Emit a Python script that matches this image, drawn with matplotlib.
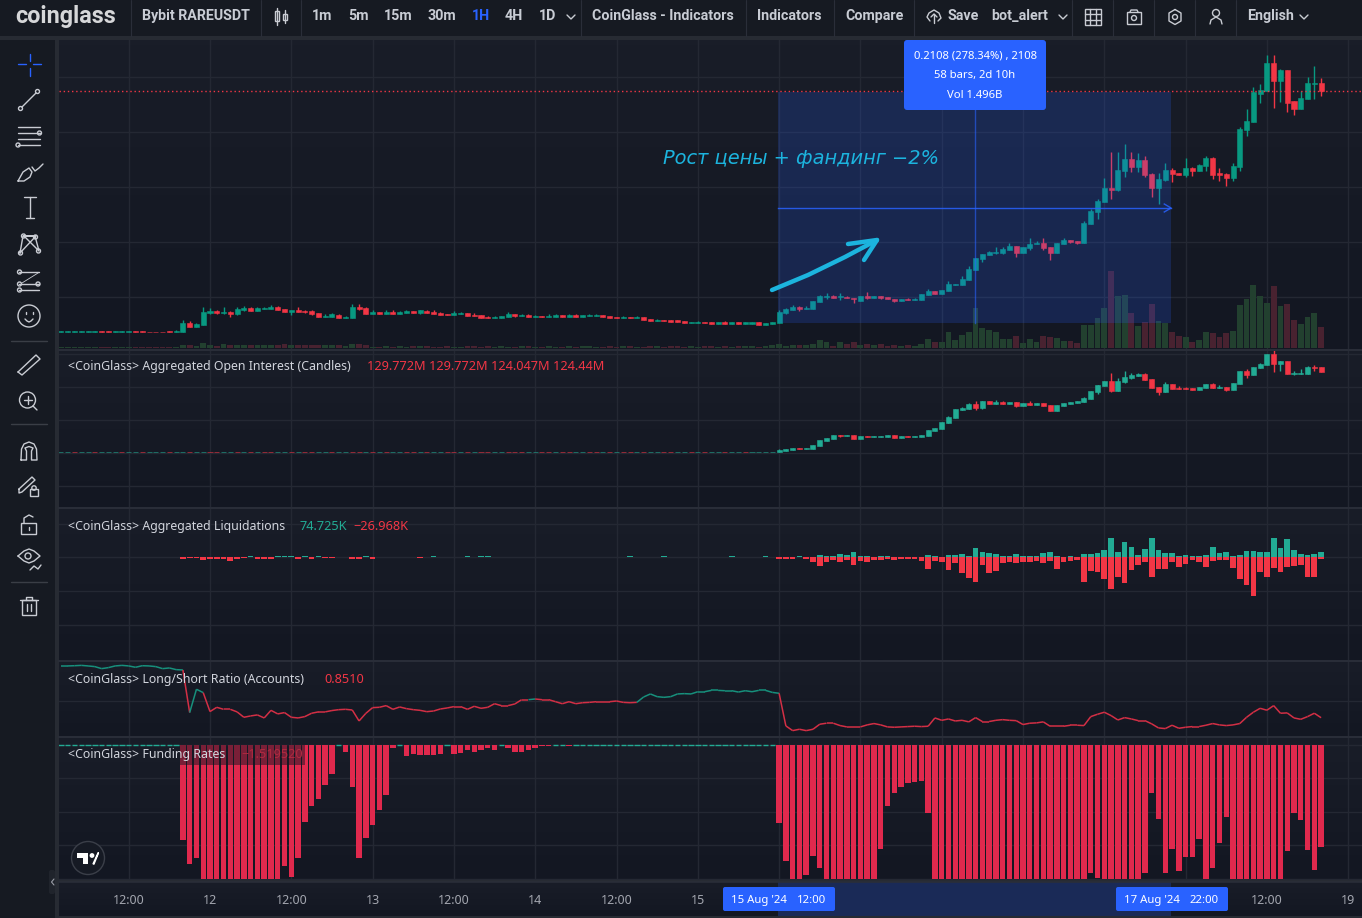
import matplotlib
matplotlib.use("Agg")
import matplotlib.pyplot as plt
import numpy as np
from matplotlib.patches import Circle, FancyBboxPatch, Polygon, Rectangle
from matplotlib.collections import LineCollection
from matplotlib.colors import LinearSegmentedColormap

plt.rcParams['font.family'] = ['Noto Sans', 'DejaVu Sans']

# hours since 12 Aug 00:00, one bar per hour
first_hour = -22
last_hour = 164

tick_hours = [-12, 0, 12, 24, 36, 48, 60, 72, 84, 96, 108, 120, 132, 144, 156, 168]
# hours 84 and 144 sit under the blue date boxes, so their labels stay empty
tick_labels = ['12:00', '12', '12:00', '13', '12:00', '14', '12:00', '15', '', '16',
               '12:00', '17', '12:00', '', '12:00', '19']

# the price scale is not in the screenshot, so these are chart readings in relative units
price_open = [18.0, 18.0, 18.0, 18.0, 18.0, 18.0, 18.6, 18.6, 18.0, 18.0, 18.4, 18.6, 18.6, 18.2, 18.2, 18.2, 19.0, 18.3,
              18.3, 27, 23, 25, 37.3, 39.3, 37.3, 38, 36.3, 40, 42, 39.3, 41, 41.3, 43, 41, 38.3, 40.3, 39.3, 39.3,
              37, 33.3, 33, 35, 32.3, 32, 43, 42, 36, 38, 36, 38, 36, 37.3, 39, 37.3, 39, 38, 37, 36,
              35, 36, 37, 35, 35, 33, 32, 32, 33, 36, 34, 35, 33, 34, 33, 33, 35, 33, 35, 33,
              34, 34, 35, 34, 33, 32, 33, 32, 33, 31, 29, 30, 30, 30, 29, 27, 27, 28, 28, 26,
              28, 26, 28, 26, 26, 28, 25, 26, 27,
              36.7, 40, 43, 41.3, 41.3, 48.3, 53.3, 54, 52.7, 53.3, 52.3, 49.3, 54, 52.3, 54.3, 52.7, 51.3, 49.3, 50.7, 49.7,
              50.3, 54.7, 58.7, 56.3, 59.3, 65.3, 65, 70, 80, 91, 94.7, 97.3, 97.3, 100, 104, 97.3, 101.7, 105.7, 107.3, 103.3,
              97, 106.3, 109.7, 109, 107.3, 126.3, 138.3, 148.3, 162, 160, 179, 191, 183, 190, 176, 162.3, 170, 180, 177, 175,
              182, 179, 184, 192, 177, 176, 172, 183, 220, 228.3, 256, 259.3, 287, 269, 280, 249, 241, 251, 266.3, 267]
price_close = [18.6, 18.6, 18.6, 18.6, 18.6, 18.6, 18.0, 18.0, 18.6, 18.6, 19.0, 18.0, 18.0, 17.8, 17.8, 17.8, 18.3, 19.3,
               27, 23, 25.7, 37.7, 39, 37.3, 38, 36.3, 41, 42, 39.3, 42, 41.7, 43, 40, 38, 40, 38.3, 38.3, 36,
               33, 34, 36, 32, 33, 43, 41, 36, 38, 36, 38, 36, 38, 39, 37, 40, 37, 36, 35, 35,
               37, 37, 34, 34, 32, 32, 33, 34, 36, 34, 35, 33, 34, 33, 34, 35, 33, 35, 33, 35,
               35, 35, 33, 32, 32, 33, 32, 33, 30, 29, 30, 29.3, 28, 28, 27, 28, 28, 27, 26, 28,
               26, 28, 26, 28, 28, 25, 27, 28, 38,
               40.7, 43, 41.3, 42.3, 48.7, 54, 54.3, 52.3, 54, 52, 50.7, 54, 52.3, 54.3, 52.3, 50.7, 49.3, 51, 49.7, 51.3,
               55.7, 59.3, 56.3, 60, 66, 66.3, 71, 81.3, 92, 96, 98.3, 98, 101.3, 104, 97, 103.3, 106, 107.3, 101.7, 97.3,
               106.7, 110, 108.3, 107.3, 127, 139, 149, 162, 160, 180, 191, 183, 189.7, 175, 162.3, 171, 180, 176, 175.3, 181.7,
               179.3, 184.7, 192, 175, 175, 172.3, 184, 221, 229, 258, 260, 287, 269, 280, 247, 241, 251.7, 267, 267, 259]
price_high = [18.6, 18.6, 18.6, 18.6, 18.6, 18.6, 18.6, 18.6, 18.6, 18.6, 19.0, 18.6, 18.6, 18.2, 18.2, 18.2, 19.0, 20.3,
              30, 29, 27, 42.7, 41.7, 40.3, 42.7, 39.3, 42.7, 44, 42.7, 43, 43, 45, 44, 41, 40, 43, 40.3, 40.3,
              37, 36, 37, 36, 34, 46, 46, 43, 40, 38, 40, 40, 39, 40, 39, 40, 40, 40, 38, 36,
              39, 38, 37, 37, 35, 34, 34, 34, 38, 36, 36, 36, 35, 34, 36, 36, 35, 36, 36, 35,
              36, 36, 35, 34, 33, 34, 33, 34, 33, 31, 31, 30, 30, 30, 29, 28, 29, 28, 28, 28,
              29, 28, 28, 28, 28, 28, 27, 28, 40,
              42.3, 45, 44, 44, 48.7, 55, 56.7, 55, 56.7, 54, 52.3, 54, 58.3, 54.3, 54.3, 52.7, 51.3, 51, 52.3, 52.3,
              55.7, 60.7, 58.7, 60, 69.3, 66.3, 74, 84.3, 92, 96, 99.3, 102.7, 102.7, 106.7, 104, 103.3, 111.7, 109, 111.7, 103.3,
              106.7, 111.7, 109.7, 109, 129, 140.7, 150.7, 172, 198, 197.7, 206, 198, 197.3, 194, 177.3, 176.7, 186.7, 181.7, 177, 191.7,
              183.3, 186, 194.3, 193.3, 181.7, 176.7, 187.3, 222.7, 240.7, 262.7, 266, 295, 295, 281.3, 280, 249, 259.3, 272.7, 284, 272]
price_low = [18.0, 18.0, 18.0, 18.0, 18.0, 18.0, 18.0, 18.0, 18.0, 18.0, 18.4, 18.0, 18.0, 17.8, 17.8, 17.8, 18.3, 18.3,
             18.3, 23, 23, 25, 36, 36, 36, 33, 35, 39.3, 39.3, 39.3, 41, 41.3, 40, 38, 35, 38.3, 37.3, 35,
             33, 33.3, 33, 32, 32.3, 32, 40, 36, 36, 36, 36, 36, 36, 37.3, 37, 36, 37, 36, 35, 35,
             35, 36, 34, 34, 32, 32, 32, 32, 33, 33, 34, 33, 33, 33, 33, 33, 33, 33, 33, 33,
             34, 34, 33, 32, 32, 32, 32, 32, 30, 29, 29, 29.3, 28, 28, 27, 27, 27, 27, 26, 26,
             26, 26, 26, 26, 26, 25, 25, 26, 27,
             36, 40, 39.3, 41.3, 41.3, 48.3, 51.3, 52.3, 50, 52, 46.7, 49.3, 51.3, 52.3, 50.7, 50.7, 47.7, 49.3, 49.7, 49.7,
             50.3, 54.7, 56.3, 56.3, 59.3, 65.3, 65, 70, 80, 87.7, 94.7, 95.7, 96, 100, 93.3, 97.3, 100, 105.7, 100, 90,
             97, 106.3, 107.3, 106, 107.3, 126.3, 131, 148.3, 151.3, 159.3, 173.3, 178, 178.3, 172.7, 153, 146.3, 169, 168.3, 175.3, 172.7,
             174, 179, 179.3, 171, 169.3, 164.3, 168.7, 179.3, 214.3, 228.3, 246.7, 259.3, 242.3, 248.3, 238.3, 235, 241, 251, 251, 254]

# volume, same relative units
volume = [1, 1, 1, 1, 1, 1, 1, 1, 1, 1, 1, 1, 1, 1, 1, 1, 1, 1,
          3, 3, 2, 5, 3, 2, 4, 3, 3, 3, 3, 3, 3, 3, 3, 4, 3, 3, 3, 3, 3, 3, 3, 3, 2, 4, 4, 3,
          1.5, 1.5, 2, 1.5, 2, 1.5, 2, 2, 2, 1.5, 1.5, 2, 1.5, 1.5, 2, 2, 1.5, 2, 1.5, 2,
          1.5, 1.5, 2, 2, 1.5, 1.5, 2, 1.5, 1.5, 2, 1.5, 2, 2, 1.5, 1.5, 2, 1.5, 2, 2, 1.5,
          1.5, 2, 2, 1.5, 2, 2, 1.5, 2, 1.5, 2, 2, 1.5, 2, 1.5, 2, 2, 2, 1.5, 2, 3, 4,
          2, 3, 3, 3, 4, 8, 6, 2, 6, 4, 6, 3, 4, 3, 4, 2, 3, 2, 3, 2,
          4, 9, 6, 6, 16, 8, 13, 16, 40, 20, 18, 16, 9, 9, 12, 5, 9, 6, 12, 11,
          10, 7, 7, 5, 23, 23, 30, 40, 77, 52, 53, 35, 22, 26, 44, 27, 25, 16, 12, 11,
          6, 8, 16, 15, 11, 15, 17, 43, 49, 63, 52, 45, 62, 42, 44, 28, 24, 31, 35, 21]

# open interest in millions, last bar is the 129.772M / 124.44M of the legend
oi_open = [38.9, 38.9, 39.3, 38.9, 38.9, 39.3, 38.9, 38.9, 38.9, 39.3,
           38.9, 38.9, 39.3, 38.9, 38.9, 38.9, 39.3, 38.9, 38.9, 39.3,
           38.9, 38.9, 39.3, 39.3, 38.9, 38.9, 39.3, 38.9, 39.3, 38.9,
           39.3, 39.3, 38.9, 38.9, 39.3, 38.9, 39.3, 39.3, 38.9, 38.9,
           39.3, 38.9, 38.9, 39.3, 39.3, 38.9, 39.3, 38.9, 39.3, 38.9,
           38.9, 39.3, 39.3, 38.9, 39.3, 38.9, 38.9, 39.3, 39.3, 38.9,
           39.3, 38.9, 39.3, 39.3, 38.9, 38.9, 39.3, 39.3, 39.3, 38.9,
           38.9, 39.3, 39.3, 38.9, 39.3, 39.3, 38.9, 38.9, 39.3, 39.3,
           38.9, 39.3, 38.9, 39.3, 39.3, 38.9, 39.3, 38.9, 38.9, 39.3,
           39.3, 38.9, 38.9, 39.3, 38.9, 39.3, 38.9, 38.9, 39.3, 38.9,
           38.9, 39.3, 38.9, 38.9, 38.9, 38.9,
           39.2, 40.2, 41.3, 43.4, 42.4, 42.4, 45.6, 50.9, 53, 57.3,
           56.2, 57.3, 53, 56.2, 55.1, 55.1, 55.1, 57.3, 54.1, 56.2,
           55.1, 55.1, 56.2, 61.5, 63.7, 70.1, 75.4, 83.9, 85, 90.3,
           86.1, 93.5, 90.3, 92.5, 90.3, 92.5, 88.2, 91.4, 89.3, 91.4,
           89.3, 82.9, 88.2, 90.3, 91.4, 92.5, 95.7, 103.1, 109.5, 114.9,
           104.2, 113.8, 118, 120.2, 122.3, 117, 108.5, 103.1, 111.6, 107.4,
           107.4, 107.4, 105.2, 107.4, 111.6, 107.4, 108.5, 105.2, 111.6, 125.5,
           121.2, 128.7, 131.9, 143.6, 133, 136.2, 122.3, 122.3, 122.3, 129.772, 129.772]
oi_close = [39.3, 39.3, 38.9, 39.3, 39.3, 38.9, 39.3, 39.3, 39.3, 38.9,
            39.3, 39.3, 38.9, 39.3, 39.3, 39.3, 38.9, 39.3, 39.3, 38.9,
            39.3, 39.3, 38.9, 38.9, 39.3, 39.3, 38.9, 39.3, 38.9, 39.3,
            38.9, 38.9, 39.3, 39.3, 38.9, 39.3, 38.9, 38.9, 39.3, 39.3,
            38.9, 39.3, 39.3, 38.9, 38.9, 39.3, 38.9, 39.3, 38.9, 39.3,
            39.3, 38.9, 38.9, 39.3, 38.9, 39.3, 39.3, 38.9, 38.9, 39.3,
            38.9, 39.3, 38.9, 38.9, 39.3, 39.3, 38.9, 38.9, 38.9, 39.3,
            39.3, 38.9, 38.9, 39.3, 38.9, 38.9, 39.3, 39.3, 38.9, 38.9,
            39.3, 38.9, 39.3, 38.9, 38.9, 39.3, 38.9, 39.3, 39.3, 38.9,
            38.9, 39.3, 39.3, 38.9, 39.3, 38.9, 39.3, 39.3, 38.9, 39.3,
            39.3, 38.9, 39.3, 39.3, 39.3, 39.3,
            41.7, 42.4, 43.4, 42.4, 43.4, 46.6, 52, 54.1, 57.3, 56.2,
            57.3, 53, 56.2, 55.1, 56.2, 56.2, 57.3, 54.1, 56.2, 55.1,
            56.2, 57.3, 62.6, 64.7, 71.1, 76.5, 85, 86.1, 90.3, 86.1,
            93.5, 90.3, 92.5, 90.3, 92.5, 88.2, 91.4, 89.3, 91.4, 88.2,
            82.9, 89.3, 91.4, 92.5, 93.5, 96.7, 104.2, 110.6, 114.9, 104.2,
            114.9, 119.1, 121.2, 122.3, 115.9, 107.4, 103.1, 111.6, 106.3, 106.3,
            106.3, 105.2, 108.5, 111.6, 107.4, 108.5, 105.2, 112.7, 125.5, 121.2,
            129.8, 133, 143.6, 133, 136.2, 122.3, 123.4, 123.4, 129.8, 128.7, 124.44]
# hours where the open interest candle has a visible wick
oi_wick_hours = [84, 93, 109, 111, 112, 113, 114, 116, 117, 119, 121, 129, 131, 133, 134, 135, 136, 137, 138, 140, 141,
                 143, 144, 148, 149, 150, 153, 155, 157, 158, 160, 161, 162, 163]
oi_wick_high = [42.4, 57.3, 77.5, 87.1, 91.4, 93.5, 93.5, 94.6, 93.5, 92.5, 93.5, 97.8, 110.6, 123.4, 118, 125.5, 123.4, 123.4,
                123.4, 108.5, 113.8, 109.5, 108.5, 112.7, 110.6, 108.5, 127.6, 134, 147.9, 136.2, 125.5, 127.6, 130.8, 131.9]
oi_wick_low = [39.2, 55.1, 70.1, 83.9, 85, 83.9, 85, 90.3, 90.3, 87.1, 89.3, 92.5, 101, 103.1, 104.2, 112.7, 117, 120.2,
               115.9, 99.9, 103.1, 106.3, 106.3, 107.4, 107.4, 104.2, 118, 128.7, 124.4, 125.5, 121.2, 122.3, 122.3, 125.5]

# liquidations in thousands, from hour -4 to the end
liq_up = [0, 0, 0, 0, 0, 0, 0, 0, 0, 0, 18, 0, 0, 0, 18, 18, 18, 0, 18, 0, 18, 0, 0, 0, 0, 0, 0, 18, 0,
          0, 0, 0, 0, 0, 0, 0, 0, 18, 0, 0, 0, 0, 18, 0, 18, 18] + [0] * 20 + [18, 0, 0, 0, 0, 18] + [0] * 9 + [
          18, 0, 0, 0, 0, 18, 0,
          0, 0, 0, 18, 0, 0, 33, 19, 19, 47,
          33, 75, 19, 19, 0, 19, 19, 0, 0, 0,
          0, 0, 33, 19, 0, 33, 33, 47, 19, 131,
          75, 61, 47, 19, 19, 47, 19, 19, 19, 61,
          75, 19, 0, 19, 0, 47, 47, 61, 103, 271,
          75, 215, 145, 33, 117, 271, 103, 61, 61, 19,
          33, 19, 19, 33, 145, 61, 75, 19, 33, 89,
          89, 75, 75, 271, 131, 257, 103, 47, 33, 47, 75]
liq_down = [28, 18, 18, 37, 28, 28, 28, 47, 28, 18, 0, 28, 28, 28, 0, 0, 0, 28, 0, 28, 0, 18, 18, 0, 0, 28, 28, 0, 28,
            0, 0, 0, 0, 0, 0, 18] + [0] * 52 + [
            28, 28, 28, 0, 28, 70, 126, 70, 42, 70,
            42, 112, 56, 70, 42, 42, 28, 42, 28, 28,
            28, 56, 168, 56, 70, 182, 84, 224, 294, 350,
            112, 224, 196, 84, 70, 84, 70, 70, 56, 84,
            56, 168, 70, 56, 42, 350, 196, 210, 308, 448,
            280, 364, 182, 112, 70, 280, 168, 168, 70, 140,
            98, 42, 70, 140, 56, 42, 42, 154, 308, 392,
            546, 210, 280, 154, 210, 140, 126, 112, 280, 280, 27]

long_short = [1.313, 1.313, 1.315, 1.318, 1.313, 1.307, 1.289, 1.298, 1.313, 1.318,
              1.313, 1.301, 1.315, 1.313, 1.307, 1.289, 1.295, 1.280, 1.277,
              0.897, 1.105, 1.075, 0.906, 0.944, 0.926, 0.926, 0.903, 0.855, 0.867, 0.876, 0.849, 0.917,
              0.885, 0.897, 0.855, 0.849, 0.861, 0.891, 0.903, 0.903, 0.915, 0.923, 0.926, 0.920,
              0.822, 0.890, 0.941, 0.944, 0.959, 0.926, 0.947, 0.932, 0.923, 0.917, 0.905, 0.911, 0.929, 0.938, 0.950, 0.950,
              0.926, 0.953, 0.935, 0.944, 0.976, 0.959, 0.959, 0.974, 1.012, 1.012, 1.018, 1.012, 1.012, 0.994, 0.976, 0.994,
              0.976, 0.985, 0.988, 0.994, 0.994, 0.994, 1.000, 0.988, 0.985, 0.988, 1.036, 1.063, 1.039, 1.033, 1.039, 1.063,
              1.066, 1.063, 1.083, 1.083, 1.095, 1.095, 1.092, 1.092, 1.080, 1.092, 1.083, 1.095, 1.095, 1.077, 1.069,
              0.778, 0.736, 0.748, 0.736, 0.748, 0.793, 0.802, 0.802, 0.781, 0.769, 0.769, 0.769, 0.787, 0.799, 0.787, 0.769,
              0.766, 0.769, 0.772, 0.775, 0.772, 0.775, 0.849, 0.828, 0.840, 0.822, 0.828, 0.814, 0.852, 0.817, 0.817, 0.828,
              0.834, 0.828, 0.825, 0.790, 0.802, 0.805, 0.814, 0.775, 0.775, 0.775, 0.784, 0.784, 0.781, 0.861, 0.882, 0.900,
              0.870, 0.831, 0.852, 0.840, 0.825, 0.825, 0.796, 0.760, 0.754, 0.784, 0.757, 0.766, 0.772, 0.772, 0.784, 0.799,
              0.787, 0.781, 0.787, 0.799, 0.855, 0.900, 0.935, 0.918, 0.959, 0.891, 0.894, 0.849, 0.837, 0.861, 0.891, 0.851]

funding = [0, 0, 0, 0, 0, 0, 0, 0, 0, 0, 0, 0, 0, 0, 0, 0, 0, 0,
           -1.42, -1.78, -1.69, -2, -2, -2, -2, -2, -2, -2, -2, -2, -2, -2, -2,
           -1.81, -1.97, -1.69, -1.15, -0.91, -0.81, -0.60, -0.43, 0, -0.10, -0.63, -1.69, -1.39, -1.19, -0.97, -0.75,
           -0.04, 0, -0.16, -0.13, -0.15, -0.15, -0.15, -0.13, 0, -0.13, -0.12, -0.07, -0.10, -0.07, -0.05, -0.08,
           0, -0.05, -0.11, -0.10, -0.08, -0.04, -0.02, -0.01, 0, 0, -0.02,
           0, 0, 0, 0, 0, 0, 0, 0, 0, 0, 0, 0, 0, 0, 0, 0, 0, 0, 0, 0, 0, 0, 0, 0, 0, 0, 0, 0, 0, 0,
           -1.16, -1.73, -2, -2, -1.94, -1.66, -1.84, -2, -2, -2, -2, -2, -2, -2, -2, -1.55, -0.91, -0.72, -0.63, -0.57,
           -0.55, -0.54, -1.01, -2, -2, -2, -2, -2, -2, -2, -2, -2, -2, -2, -2, -2, -2, -2, -2, -2,
           -2, -2, -2, -2, -2, -2, -1.91, -1.98, -2, -2, -2, -2, -2, -2, -1.91, -0.72, -1.10, -1.91, -1.55, -1.88,
           -1.67, -1.67, -1.40, -2, -1.84, -1.46, -1.07, -2, -2, -2, -2, -2, -2, -2, -2, -1.58, -1.01, -1.12, -1.57, -1.87, -1.52]

hours = np.arange(first_hour, last_hour + 1)
liq_hours = np.arange(-4, last_hour + 1)

GREEN = '#089981'
RED = '#f23645'
TEAL = '#22ab94'
FUND = '#e0294d'
GRID = '#242833'
TEXT = '#d1d4dc'
ICON = '#c9ccd3'
BAR = '#161a22'
CYAN = '#1cb4de'
BLUE = '#2962ff'
TOOL = '#c8ccd4'
BOLD = 'Roboto'

W, H = 1362, 918
PX_PER_HOUR = 6.775
X0 = 210  # pixel of hour 0

fig = plt.figure(figsize=(W / 100, H / 100), dpi=100, facecolor='#272b33')

back = fig.add_axes([0, 0, 1, 1], zorder=0)
back.set_xlim(0, W)
back.set_ylim(H, 0)
back.axis('off')
back.add_patch(Rectangle((0, 0), W, 36, color=BAR, lw=0))
back.add_patch(Rectangle((0, 40), 55, H - 40, color=BAR, lw=0))

grad = LinearSegmentedColormap.from_list('pane', ['#191d28', '#131722'])


def pane(top, bottom, ylim, yticks):
    ax = fig.add_axes([59 / W, 1 - bottom / H, (W - 59) / W, (bottom - top) / H], zorder=1)
    ax.imshow(np.linspace(0, 1, 64).reshape(-1, 1), cmap=grad, aspect='auto', extent=(0, 1, 0, 1),
              transform=ax.transAxes, zorder=0)
    ax.set_xlim((59 - X0) / PX_PER_HOUR, (W - X0) / PX_PER_HOUR)
    ax.set_ylim(*ylim)
    ax.set_xticks(tick_hours)
    ax.set_yticks(yticks)
    ax.tick_params(length=0, labelbottom=False, labelleft=False)
    ax.grid(True, color=GRID, lw=1, zorder=0.5)
    ax.set_axisbelow(True)
    for s in ax.spines.values():
        s.set_visible(False)
    return ax


def candles(ax, x, o, c, h, l, up, down, width=0.74):
    o, c, h, l, x = map(np.asarray, (o, c, h, l, x))
    colors = [up if cc >= oo else down for oo, cc in zip(o, c)]
    ax.vlines(x, l, h, colors=colors, lw=1, zorder=3)
    ax.bar(x, np.abs(c - o), bottom=np.minimum(o, c), width=width, color=colors,
           edgecolor=colors, lw=0.4, zorder=3)


# price pane, volume stands on the pane floor 2 units up
ax_price = pane(40, 350, (0, 310), [273, 218, 163, 108, 53])
vol_colors = ['#22402f' if c >= o else '#482230' for o, c in zip(price_open, price_close)]
ax_price.bar(hours, volume, bottom=2, width=0.86, color=vol_colors, lw=0, zorder=2)
candles(ax_price, hours, price_open, price_close, price_high, price_low, GREEN, RED)
ax_price.axhline(price_close[-1], color=RED, lw=1, ls=(0, (1, 2)), zorder=4)

# the measuring tool, 58 bars wide, anchored just left of the hour 84 candle
tool_start = 83.85
ax_price.add_patch(Rectangle((tool_start, 27), 58, 231, color=BLUE, alpha=0.2, lw=0, zorder=5))
ax_price.plot([tool_start, tool_start + 58], [142, 142], color=BLUE, lw=1, alpha=0.85, zorder=6)
ax_price.plot([tool_start + 29, tool_start + 29], [27, 240], color=BLUE, lw=1, alpha=0.6, zorder=6)
ax_price.plot([tool_start + 57, tool_start + 58, tool_start + 57], [146, 142, 138], color=BLUE, lw=1, alpha=0.85, zorder=6)

# open interest
ax_oi = pane(350, 508, (-20.5, 147.9), [143.6, 108.5, 73.3, 38.1, 2.9])
oi_o, oi_c = np.array(oi_open), np.array(oi_close)
candles(ax_oi, hours, oi_o, oi_c, np.maximum(oi_o, oi_c), np.minimum(oi_o, oi_c), TEAL, RED)
wick_colors = [TEAL if oi_c[h - first_hour] >= oi_o[h - first_hour] else RED for h in oi_wick_hours]
ax_oi.vlines(oi_wick_hours, oi_wick_low, oi_wick_high, colors=wick_colors, lw=1, zorder=3)

# liquidations
ax_liq = pane(508, 660, (-1440, 689), [462, 0, -476, -952])
ax_liq.bar(liq_hours, liq_up, width=0.84, color=TEAL, lw=0, zorder=3)
ax_liq.bar(liq_hours, -np.array(liq_down), width=0.84, color=RED, lw=0, zorder=3)

# long/short ratio, one colour per segment
ax_ls = pane(660, 737, (0.679, 1.366), [1.0])
pts = np.column_stack([hours, long_short])
segs = np.stack([pts[:-1], pts[1:]], axis=1)
seg_colors = ['#17907c' if v >= 1.015 else '#d32f45' for v in long_short[1:]]
ax_ls.add_collection(LineCollection(segs, colors=seg_colors, lw=1.1, zorder=3))

# funding
ax_fund = pane(737, 880, (-2.016, 0.119), [0, -0.5, -1, -1.5, -2])
ax_fund.bar(hours, funding, width=0.8, color=FUND, lw=0, zorder=3)
flat = np.array(funding) == 0
ax_fund.hlines(np.zeros(flat.sum()), hours[flat] - 0.4, hours[flat] + 0.4, color=TEAL, lw=1, zorder=3)

# time axis
ax_time = pane(882, 916, (0, 1), [])
ax_time.grid(False)
ax_time.axvspan(tool_start, tool_start + 58, color='#1a2a57', lw=0, zorder=1)
ax_time.set_xticklabels(tick_labels)
ax_time.tick_params(labelbottom=True, labelsize=9, labelcolor='#a3a6af', pad=-16)

# everything else is page furniture, drawn in pixels on top of the panes
ui = fig.add_axes([0, 0, 1, 1], zorder=5)
ui.set_xlim(0, W)
ui.set_ylim(H, 0)
ui.axis('off')
ui.patch.set_visible(False)


def ln(xs, ys, c=ICON, lw=1.0):
    ui.plot(xs, ys, color=c, lw=lw, solid_capstyle='round', solid_joinstyle='round')


def ring(x, y, r, c=ICON, lw=1.0):
    ui.add_patch(Circle((x, y), r, fill=False, ec=c, lw=lw))


def txt(x, y, s, c=TEXT, size=9, weight='normal', ha='left', **kw):
    ui.text(x, y, s, color=c, fontsize=size, fontweight=weight, ha=ha, va='center', **kw)


def btxt(x, y, s, c=TOOL, size=10.3, ha='left'):
    txt(x, y, s, c=c, size=size, weight='bold', ha=ha, family=BOLD)


# pane borders
for y in [349.5, 508, 660.5, 737]:
    ln([59, W], [y, y], c='#2a2e39', lw=1.4)
ln([59, W], [881.5, 881.5], c='#2a2e39', lw=1.2)

# top bar
btxt(15, 16, 'coinglass', c='#d6d7d9', size=16.8)
btxt(142, 16, 'Bybit RAREUSDT')
for x, label in zip([322, 358, 398, 442, 514, 548], ['1m', '5m', '15m', '30m', '4H', '1D']):
    btxt(x, 16, label, ha='center')
btxt(481, 16, '1H', c=BLUE, ha='center')
btxt(592, 16, 'CoinGlass - Indicators')
btxt(757, 16, 'Indicators')
btxt(845, 16, 'Compare')
btxt(948, 16, 'Save')
btxt(991, 16, 'bot_alert')
btxt(1247, 16, 'English')
for x in [131, 261, 301, 581, 746, 834, 914, 1072, 1113, 1154, 1195, 1236]:
    ln([x, x], [0, 36], c='#2a2e39', lw=0.8)
for x in [571, 1063, 1304]:
    ln([x - 4, x, x + 4], [15, 19, 15])
# candle icon
ln([277, 277], [8, 25])
ui.add_patch(Rectangle((275, 11), 4, 10, fill=False, ec=ICON, lw=1))
ln([285, 285], [10, 23])
ui.add_patch(Rectangle((283, 14), 4, 6, fill=False, ec=ICON, lw=1))
# cloud
ln([930, 927, 929, 934, 939, 941, 938], [21, 17, 13, 10, 13, 18, 21])
ln([934, 934], [23, 14])
ln([931, 934, 937], [17, 14, 17])
# grid
ui.add_patch(Rectangle((1085, 9), 16, 16, fill=False, ec=ICON, lw=1))
for d in [5.3, 10.6]:
    ln([1085 + d, 1085 + d], [9, 25])
    ln([1085, 1101], [9 + d, 9 + d])
# camera
ui.add_patch(Rectangle((1127, 12), 14, 12, fill=False, ec=ICON, lw=1))
ring(1134, 18, 2.5)
ln([1130, 1131, 1137, 1138], [12, 10, 10, 12])
# gear
ring(1175, 17, 2.5)
ln([1175, 1181, 1181, 1175, 1169, 1169, 1175], [9.5, 13, 21, 24.5, 21, 13, 9.5])
# user
ring(1216, 13, 3.5)
ln([1210, 1211, 1216, 1221, 1222], [24, 20, 17, 20, 24])

# left toolbar
ln([18, 26], [64, 64], c=BLUE)
ln([33, 41], [64, 64], c=BLUE)
ln([29.5, 29.5], [54, 61], c=BLUE)
ln([29.5, 29.5], [68, 76], c=BLUE)
ln([22, 36], [107, 93])
ring(20.5, 108.5, 2)
ring(37.5, 91.5, 2)
for y in [126.5, 133, 139, 145]:
    ln([18, 40], [y, y])
ring(39.5, 133, 2)
ring(18, 145, 2)
ln([18, 23, 29, 32, 30, 24, 18], [181, 172, 168, 172, 177, 181, 181])
ln([32, 35, 39, 43], [167, 171, 168, 164])
ln([24, 36], [197, 197])
ln([30, 30], [197, 218])
ln([26, 34], [218, 218])
ln([20, 23, 35, 39, 24, 36, 20], [253, 236, 236, 251, 236, 236, 253])
for x, y in [(20.5, 253), (23.5, 236), (35.5, 237), (38.5, 251)]:
    ring(x, y, 2)
for y in [272, 284, 290]:
    ln([19, 39], [y, y])
ln([22, 38], [283, 273], lw=0.6)
for x, y in [(19.5, 272), (19.5, 284), (38, 284), (19.5, 290)]:
    ring(x, y, 2)
ring(29, 316, 11)
ln([25, 27, 29, 31, 33], [319, 321, 322, 321, 319])
ln([25.5, 25.5], [312, 313.5])
ln([32.5, 32.5], [312, 313.5])
ln([18, 36, 40, 22, 18], [372, 355, 359, 375, 372])
ring(27.5, 400, 8)
ln([33, 37], [406, 410])
ln([23.5, 31.5], [400, 400])
ln([27.5, 27.5], [396, 404])
ln([21, 21.5, 24, 29, 34, 36.5, 37, 37, 31.5, 31.5, 33, 29, 25, 26.5, 26.5, 21],
   [460, 449, 444, 442, 444, 449, 460, 460, 460, 451, 448, 446.5, 448, 451, 460, 460])
ln([19, 32, 35, 22, 19, 19], [489, 477, 480, 492, 493, 489])
ui.add_patch(Rectangle((30, 489), 8, 7, fill=False, ec=ICON, lw=1))
ring(34, 488, 2.2)
ui.add_patch(Rectangle((21, 523), 15, 11, fill=False, ec=ICON, lw=1))
ln([24, 24, 29, 33], [523, 518, 515, 517])
ln([29, 29], [527, 530])
ln([18, 24, 29, 34, 40, 34, 29, 24, 18], [556, 551, 549, 551, 556, 561, 563, 561, 556])
ring(28, 556, 3)
ln([30, 34, 38, 41], [570, 566, 569, 565])
for y in [341, 424, 582]:
    ln([11, 47], [y, y], c='#3a3e46', lw=1)
ln([20, 38], [600, 600])
ln([26, 26, 32, 32], [600, 597, 597, 600])
ui.add_patch(Rectangle((22, 600), 14, 15, fill=False, ec=ICON, lw=1))
ln([27, 27], [604, 611])
ln([31, 31], [604, 611])
ui.add_patch(FancyBboxPatch((49, 870), 6, 24, boxstyle='round,pad=0,rounding_size=2', fc='#20242c', ec='none'))
ln([54, 51.5, 54], [879, 882, 885], c='#9a9da6', lw=0.8)

# pane legends
txt(68, 366.5, '<CoinGlass> Aggregated Open Interest (Candles)', size=8.9)
txt(367, 366.5, '129.772M 129.772M 124.047M 124.44M', c=RED, size=9.2)
txt(68, 526.5, '<CoinGlass> Aggregated Liquidations', size=8.9)
txt(300, 526.5, '74.725K', c=TEAL, size=9.2)
txt(353, 526.5, '−26.968K', c=RED, size=9.2)
txt(68, 679.5, '<CoinGlass> Long/Short Ratio (Accounts)', size=8.9)
txt(324, 679.5, '0.8510', c=RED, size=9.2)
ui.add_patch(Rectangle((180, 745), 125, 20, fc='#131722', alpha=0.5, lw=0))
txt(68, 754.5, '<CoinGlass> Funding Rates', size=8.9)
txt(241, 754.5, '−1.519520', c='#b02a40', size=9.2)

# tooltip of the measuring tool
ui.add_patch(FancyBboxPatch((904, 40), 142, 70, boxstyle='round,pad=0,rounding_size=3', fc=BLUE, ec='none'))
txt(975, 55.5, '0.2108 (278.34%) , 2108', c='white', size=8.1, ha='center')
txt(975, 75.5, '58 bars, 2d 10h', c='white', size=8.1, ha='center')
txt(975, 95.5, 'Vol 1.496B', c='white', size=8.1, ha='center')

# hand drawn note
txt(663, 158, 'Рост цены + фандинг −2%', c=CYAN, size=13.95, family='DejaVu Sans', style='oblique')
ln([772, 808, 845, 877], [290, 275, 257, 240], c=CYAN, lw=3.2)
ln([848, 877, 864], [244, 240, 260], c=CYAN, lw=3.2)

# date labels on the time axis
for x, day, tm in [(723, "15 Aug '24", '12:00'), (1116, "17 Aug '24", '22:00')]:
    ui.add_patch(FancyBboxPatch((x, 887), 112, 24, boxstyle='round,pad=0,rounding_size=2', fc=BLUE, ec='none'))
    txt(x + 8, 900.5, day, c='white', size=8.2)
    txt(x + 74, 900.5, tm, c='white', size=8.2)

# tradingview badge
ui.add_patch(Circle((88, 858), 16.5, fc='#161a24', ec='#3b3f49', lw=1))
ui.add_patch(Polygon([(77, 853), (88, 853), (88, 864), (83, 864), (83, 858), (77, 858)], fc='white', ec='none'))
ui.add_patch(Circle((92, 855.5), 2.4, fc='white', ec='none'))
ui.add_patch(Polygon([(93, 864), (98, 853), (99, 853), (98.5, 853), (94, 864)], fc='white', ec='white', lw=1))

fig.savefig('out.png', dpi=100, facecolor=fig.get_facecolor())
